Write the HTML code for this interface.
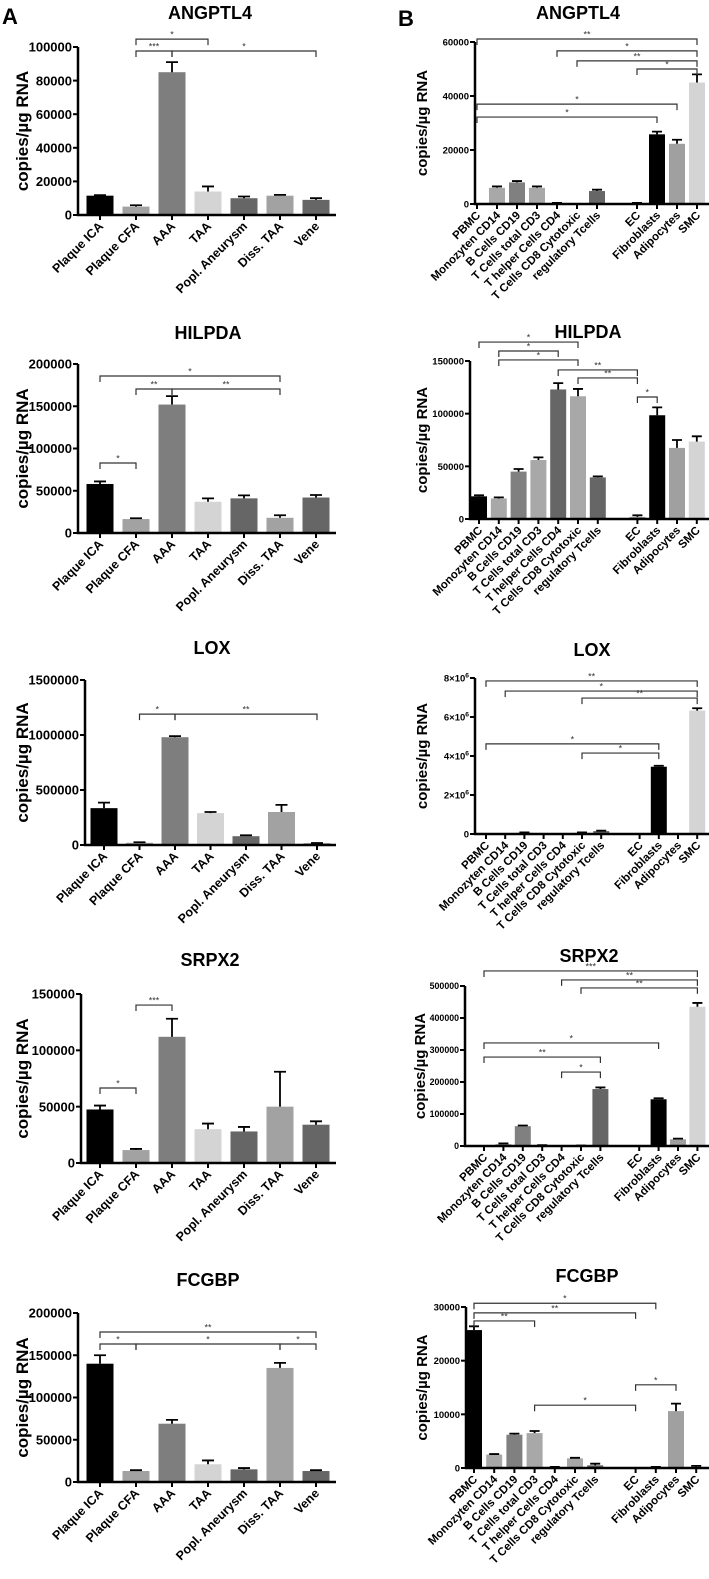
<!DOCTYPE html>
<html><head><meta charset="utf-8">
<style>
html,body{margin:0;padding:0;background:#fff;}
svg{display:block;font-family:"Liberation Sans",Arial,sans-serif;}
</style></head>
<body>
<svg id="fig" width="709" height="1579" viewBox="0 0 709 1579" xmlns="http://www.w3.org/2000/svg">
<text x="2" y="24" font-size="22" font-weight="bold">A</text>
<text x="398" y="26" font-size="22" font-weight="bold">B</text>
</svg>
<script>
// ---- categories ----
const catsA = ["Plaque ICA","Plaque CFA","AAA","TAA","Popl. Aneurysm","Diss. TAA","Vene"];
const catsB = ["PBMC","Monozyten CD14","B Cells CD19","T Cells total CD3","T helper Cells CD4","T Cells CD8 Cytotoxic","regulatory Tcells","EC","Fibroblasts","Adipocytes","SMC"];

// ---- panel A values / error tops ----
const aAngVal = [11500,5000,85000,14000,10000,11500,9000];
const aAngErr = [11800,5800,91000,17000,11000,12000,10000];
const aAngTicks = [0,20000,40000,60000,80000,100000];
const aAngSig = [[1,3,104700,"*"],[1,2,97600,"***"],[2,6,97600,"*"]];

const aHilVal = [58000,16500,152000,37000,41000,18000,42000];
const aHilErr = [61000,17500,162000,41000,44500,21000,45000];
const aHilTicks = [0,50000,100000,150000,200000];
const aHilSig = [[0,5,185800,"*"],[1,2,170400,"**"],[2,5,170400,"**"],[0,1,82800,"*"]];

const aLoxVal = [335000,20000,980000,290000,80000,300000,15000];
const aLoxErr = [385000,25000,990000,300000,88000,365000,18000];
const aLoxTicks = [0,500000,1000000,1500000];
const aLoxSig = [[1,2,1190000,"*"],[2,6,1190000,"**"]];

const aSrpVal = [47500,11500,112000,30000,28000,50000,34000];
const aSrpErr = [51000,12500,128000,35000,32000,81000,37000];
const aSrpTicks = [0,50000,100000,150000];
const aSrpSig = [[1,2,140200,"***"],[0,1,66600,"*"]];

const aFcgVal = [140000,13000,69000,21000,15000,135000,13000];
const aFcgErr = [150000,14000,73500,25500,16500,141000,14000];
const aFcgTicks = [0,50000,100000,150000,200000];
const aFcgSig = [[0,6,177500,"**"],[0,1,163300,"*"],[1,5,163300,"*"],[5,6,163300,"*"]];

// ---- panel B values / error tops ----
const bAngVal = [0,6000,8000,6000,300,0,4800,300,25800,22300,45000];
const bAngErr = [0,6500,8500,6500,400,0,5300,400,26800,23800,48000];
const bAngTicks = [0,20000,40000,60000];
const bAngSig = [[0,10,61100,"**"],[4,10,56700,"*"],[5,10,53000,"**"],[7,10,50000,"*"],[0,9,37000,"*"],[0,8,32200,"*"]];

const bHilVal = [21500,19500,45000,56000,123000,116500,39500,2000,98500,67500,73500];
const bHilErr = [22500,20500,47500,58500,129000,123500,40500,3500,106000,75000,78500];
const bHilTicks = [0,50000,100000,150000];
const bHilSig = [[0,5,168000,"*"],[1,4,159500,"*"],[1,5,151000,"*"],[4,7,141500,"**"],[5,7,133900,"**"],[7,8,115800,"*"]];

const bLoxVal = [0,0,60000,0,0,60000,150000,0,3450000,0,6330000];
const bLoxErr = [0,0,80000,0,0,80000,170000,0,3500000,0,6450000];
const bLoxTicks = [0,2000000,4000000,6000000,8000000];
const bLoxSig = [[0,10,7850000,"**"],[1,10,7330000,"*"],[5,10,6970000,"**"],[0,8,4620000,"*"],[5,8,4150000,"*"]];

const bSrpVal = [0,6000,62000,2000,0,1000,178000,0,146000,21000,435000];
const bSrpErr = [0,8000,64000,2500,0,1500,183000,0,149000,23000,447000];
const bSrpTicks = [0,100000,200000,300000,400000,500000];
const bSrpSig = [[0,10,547000,"***"],[4,10,519000,"**"],[5,10,494000,"**"],[0,8,322000,"*"],[0,6,278000,"**"],[4,6,231000,"*"]];

const bFcgVal = [25700,2500,6200,6500,150,1800,500,0,150,10600,200];
const bFcgErr = [26400,2600,6400,6900,200,1900,800,0,200,12000,400];
const bFcgTicks = [0,10000,20000,30000];
const bFcgSig = [[0,8,30700,"*"],[0,7,28900,"**"],[0,3,27400,"**"],[3,7,11700,"*"],[7,9,15500,"*"]];

const colorsA = ["#000000","#a2a2a2","#7e7e7e","#d4d4d4","#666666","#a2a2a2","#666666"];
const colorsB = ["#000000","#a8a8a8","#808080","#a8a8a8","#666666","#a8a8a8","#666666","#a0a0a0","#000000","#a0a0a0","#d4d4d4"];

const NS = "http://www.w3.org/2000/svg";
const svg = document.getElementById("fig");
function mk(tag, attrs, parent){
  const e = document.createElementNS(NS, tag);
  for (const k in attrs) e.setAttribute(k, attrs[k]);
  (parent||svg).appendChild(e);
  return e;
}

function panel(o){
  const g = mk("g",{});
  
  
  const y = v => o.zero - (v/o.max)*(o.zero-o.top);
  const xs = i => o.x0 + (o.gap && i>=7 ? i+1 : i)*o.step;
  const t = mk("text",{x:o.tx,y:o.ty+6,"text-anchor":"middle","font-size":18,"font-weight":"bold"},g);
  t.textContent = o.title;
  
  
  const yt = mk("text",{x:0,y:0,"text-anchor":"middle","font-size":o.ytSize,"font-weight":"bold",transform:`translate(${o.ytx},${(o.top+o.zero)/2}) rotate(-90)`},g);
  yt.textContent = "copies/µg RNA";
  
  
  o.vals.forEach((v,i)=>{
    const cx = xs(i);
    if (v>0){
      const r = mk("rect",{x:cx-o.bw/2,y:y(v),width:o.bw,height:o.zero-y(v),fill:o.colors[i]},g);
      
      
    }
    const e = o.errs[i];
    if (e>v){
      const l = mk("path",{d:`M${cx} ${y(v)}V${y(e)}M${cx-o.cap} ${y(e)}H${cx+o.cap}`,stroke:"#000","stroke-width":1.8,fill:"none"},g);
      
      
    }
  });
  const ax = mk("path",{d:`M${o.ax} ${o.top}V${o.zero}H${o.axEnd}`,stroke:"#000","stroke-width":2.5,fill:"none"},g);
  
  
  o.ticks.forEach(tv=>{
    const ty = y(tv);
    mk("line",{x1:o.ax-5,x2:o.ax,y1:ty,y2:ty,stroke:"#000","stroke-width":2},g);
    const tl = mk("text",{x:o.ax-6,y:ty+o.tickSize*0.36,"text-anchor":"end","font-size":o.tickSize,"font-weight":"bold"},g);
    if (o.sci && tv!==0){
      tl.textContent = (tv/1e6)+"×10";
      const s = mk("tspan",{"font-size":o.tickSize*0.7,dy:-4},tl);
      s.textContent = "6";
    } else tl.textContent = String(tv);
    
    
  });
  o.cats.forEach((c,i)=>{
    const cx = xs(i);
    mk("line",{x1:cx,x2:cx,y1:o.zero,y2:o.zero+5,stroke:"#000","stroke-width":2},g);
    const cl = mk("text",{x:0,y:0,"text-anchor":"end","font-size":o.catSize,"font-weight":"bold",transform:`translate(${cx+4},${o.zero+12}) rotate(-45)`},g);
    cl.textContent = c;
    
    
  });
  o.sig.forEach(s=>{
    const x1 = xs(s[0]), x2 = xs(s[1]), by = y(s[2]);
    const b = mk("path",{d:`M${x1} ${by+6}V${by}H${x2}V${by+6}`,stroke:"#333","stroke-width":1.2,fill:"none"},g);
    
    
    const st = mk("text",{x:(x1+x2)/2,y:by-1.5,"text-anchor":"middle","font-size":9,fill:"#333"},g);
    st.textContent = s[3];
    
    
  });
}

const A = {cats:catsA,colors:colorsA,x0:100,step:36,bw:27,cap:6,axEnd:336,tickSize:13,catSize:12.5,ytSize:17,ytx:28};
panel({...A,name:"chart-a-angptl4",title:"ANGPTL4",tx:210,ty:13,ax:78,top:47,zero:215,max:100000,vals:aAngVal,errs:aAngErr,ticks:aAngTicks,sig:aAngSig});
panel({...A,name:"chart-a-hilpda",title:"HILPDA",tx:208,ty:333,ax:78,top:364,zero:533,max:200000,vals:aHilVal,errs:aHilErr,ticks:aHilTicks,sig:aHilSig});
panel({...A,name:"chart-a-lox",title:"LOX",tx:212,ty:648,ax:85,top:680,zero:845,max:1500000,x0:104,step:35.5,vals:aLoxVal,errs:aLoxErr,ticks:aLoxTicks,sig:aLoxSig});
panel({...A,name:"chart-a-srpx2",title:"SRPX2",tx:210,ty:960,ax:81,top:994,zero:1163,max:150000,vals:aSrpVal,errs:aSrpErr,ticks:aSrpTicks,sig:aSrpSig});
panel({...A,name:"chart-a-fcgbp",title:"FCGBP",tx:208,ty:1280,ax:78,top:1313,zero:1482,max:200000,vals:aFcgVal,errs:aFcgErr,ticks:aFcgTicks,sig:aFcgSig});

const B = {cats:catsB,colors:colorsB,gap:true,bw:16,cap:5,axEnd:709,tickSize:9.5,catSize:11.5,ytSize:15,ytx:427};
panel({...B,name:"chart-b-angptl4",title:"ANGPTL4",tx:578,ty:13,ax:475,top:42,zero:204,max:60000,x0:477,step:20.0,vals:bAngVal,errs:bAngErr,ticks:bAngTicks,sig:bAngSig});
panel({...B,name:"chart-b-hilpda",title:"HILPDA",tx:588,ty:332,ax:470,top:361,zero:519,max:150000,x0:479,step:19.8,vals:bHilVal,errs:bHilErr,ticks:bHilTicks,sig:bHilSig});
panel({...B,name:"chart-b-lox",title:"LOX",tx:592,ty:650,ax:475,top:678,zero:834,max:8000000,x0:486,step:19.2,sci:true,vals:bLoxVal,errs:bLoxErr,ticks:bLoxTicks,sig:bLoxSig});
panel({...B,name:"chart-b-srpx2",title:"SRPX2",tx:589,ty:956,ax:465,top:986,zero:1146,max:500000,x0:484,step:19.4,tickSize:8.8,ytx:425,vals:bSrpVal,errs:bSrpErr,ticks:bSrpTicks,sig:bSrpSig});
panel({...B,name:"chart-b-fcgbp",title:"FCGBP",tx:587,ty:1276,ax:466,top:1307,zero:1468,max:30000,x0:474,step:20.2,vals:bFcgVal,errs:bFcgErr,ticks:bFcgTicks,sig:bFcgSig});
</script>
</body></html>
